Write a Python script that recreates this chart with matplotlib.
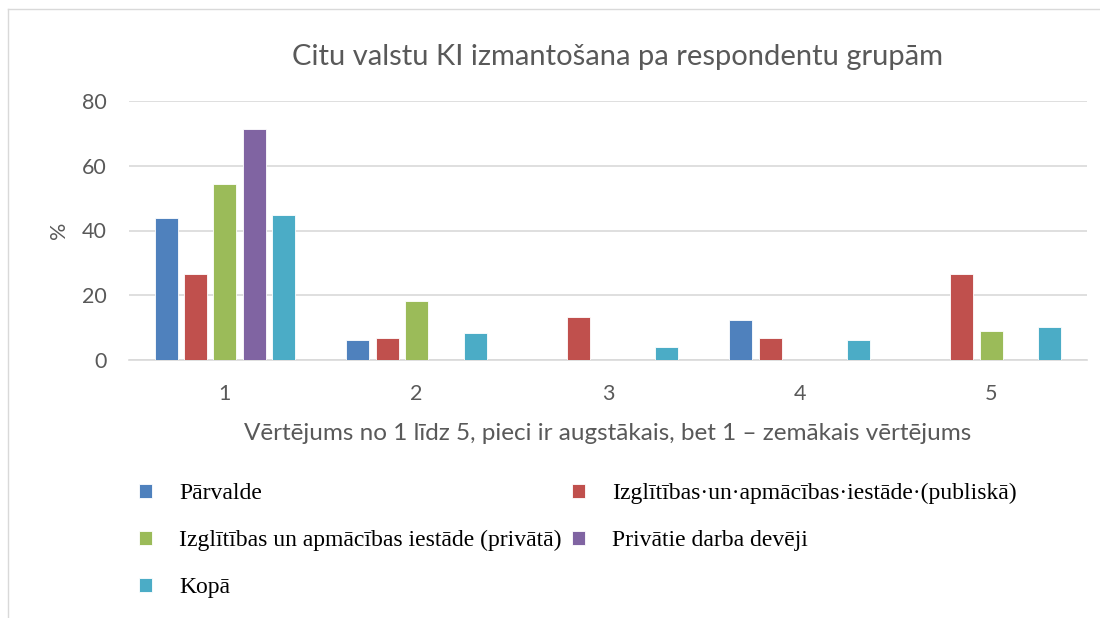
import matplotlib
matplotlib.use("Agg")
import matplotlib.pyplot as plt
import numpy as np

# dati
vertejumi = ["1", "2", "3", "4", "5"]
parvalde = [43.8, 6.3, 0, 12.5, 0]
izgl_publiska = [26.7, 6.7, 13.3, 6.7, 26.7]
izgl_privata = [54.5, 18.2, 0, 0, 9.1]
privatie = [71.4, 0, 0, 0, 0]
kopa = [44.9, 8.2, 4.1, 6.1, 10.2]

nosaukumi = ["Pārvalde",
             "Izglītības·un·apmācības·iestāde·(publiskā)",
             "Izglītības un apmācības iestāde (privātā)",
             "Privātie darba devēji",
             "Kopā"]
krasas = ["#4f81bd", "#c0504d", "#9bbb59", "#8064a2", "#4bacc6"]

serijas = [parvalde, izgl_publiska, izgl_privata, privatie, kopa]

teksts = "#595959"
plt.rcParams['font.family'] = ['Lato', 'DejaVu Sans']

fig = plt.figure(figsize=(11, 6.18), dpi=100)
ax = fig.add_axes([129/1100, 1-360/618, 958/1100, 259/618])

x = np.arange(len(vertejumi))
solis = 0.153
platums = 0.12
stabini = []
for i, (vals, c) in enumerate(zip(serijas, krasas)):
    b = ax.bar(x + (i - 2) * solis, vals, width=platums, color=c,
               edgecolor="white", linewidth=0.6, zorder=3)
    stabini.append(b)

ax.set_xlim(-0.5, 4.5)
ax.set_ylim(0, 80)
ax.set_yticks([0, 20, 40, 60, 80])
ax.set_xticks(x)
ax.set_xticklabels(vertejumi)
ax.grid(axis="y", color="#d9d9d9", linewidth=1.2, zorder=0)
for s in ["top", "right", "left"]:
    ax.spines[s].set_visible(False)
ax.spines["bottom"].set_color("#d9d9d9")
ax.spines["bottom"].set_linewidth(1.2)
ax.tick_params(axis="both", length=0, colors=teksts, labelsize=15.5)
ax.tick_params(axis="y", pad=16)
ax.tick_params(axis="x", pad=17)

ax.set_ylabel("%", fontsize=15.5, color=teksts, labelpad=9)
ax.set_xlabel("Vērtējums no 1 līdz 5, pieci ir augstākais, bet 1 – zemākais vērtējums",
              fontsize=17.5, color=teksts, labelpad=14)
fig.text(617/1100, 1-57/618, "Citu valstu KI izmantošana pa respondentu grupām",
         ha="center", va="center", fontsize=21, color=teksts)

# legenda (rindas: 1+2, 3+4, 5)
seciba = [0, 2, 4, 1, 3]
leg = fig.legend([stabini[i] for i in seciba], [nosaukumi[i] for i in seciba],
                 ncol=2, loc="upper left", bbox_to_anchor=(139/1100, 1-483/618),
                 frameon=False, prop={"family": "Liberation Serif", "size": 17},
                 handlelength=0.55, handleheight=0.55, handletextpad=1.15,
                 labelspacing=1.1, columnspacing=0.45, borderpad=0, borderaxespad=0)
for t in leg.get_texts():
    t.set_color("black")

# rāmis
fig.add_artist(plt.Line2D([8/1100, 8/1100], [0, 1-9/618], color="#d9d9d9", lw=1))
fig.add_artist(plt.Line2D([8/1100, 1], [1-9/618, 1-9/618], color="#d9d9d9", lw=1))

fig.savefig("out.png", dpi=100)
